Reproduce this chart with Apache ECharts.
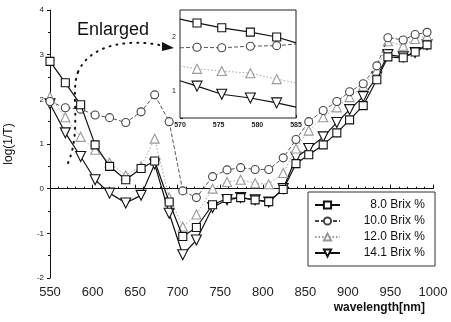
<!DOCTYPE html>
<html><head><meta charset="utf-8">
<script src="https://cdn.jsdelivr.net/npm/echarts@6/dist/echarts.min.js"></script>
<style>html,body{margin:0;padding:0;background:#fff}#c{width:451px;height:322px}</style>
</head><body><div id="c"></div>
<script>
// ---- data ----
const wavelengths = [550,568,586,603,620,639,657,673,690,706,722,741,758,774,791,807,824,839,854,871,887,902,918,934,947,965,979,993];
const brix80  = [2.85,2.37,1.88,0.98,0.50,0.20,0.45,0.62,-0.30,-1.07,-0.87,-0.36,-0.22,-0.20,-0.25,-0.29,-0.02,0.56,0.76,0.98,1.25,1.54,1.86,2.44,2.95,2.93,3.06,3.22];
const brix100 = [1.95,1.81,1.78,1.65,1.59,1.48,1.72,2.10,1.50,-0.05,-0.20,0.27,0.42,0.47,0.43,0.43,0.69,1.10,1.50,1.75,1.95,2.17,2.35,2.75,3.38,3.33,3.45,3.50];
const brix120 = [2.05,1.60,1.16,0.87,0.58,0.30,0.50,1.12,-0.20,-0.85,-0.58,0.00,0.15,0.20,0.12,0.10,0.35,0.90,1.30,1.60,1.82,2.05,2.30,2.65,3.30,3.20,3.35,3.42];
const brix141 = [1.90,1.25,0.72,0.20,-0.10,-0.32,-0.15,0.55,-0.55,-1.48,-1.15,-0.42,-0.25,-0.20,-0.25,-0.30,0.00,0.70,0.90,1.16,1.48,1.77,2.06,2.50,3.00,2.95,3.05,3.22];
const seriesNames = ['8.0 Brix %','10.0 Brix %','12.0 Brix %','14.1 Brix %'];
const xTicks = [550,600,650,700,750,800,850,900,950,1000];
const yTicks = [-2,-1,0,1,2,3,4];
// inset (enlarged 570-585 nm)
const insetWl  = [570,572.2,575.4,579.1,582.5,585];
const inset80  = [2.33,2.26,2.17,2.09,2.00,1.89];
const inset100 = [1.80,1.81,1.80,1.83,1.84,1.87];
const inset120 = [1.46,1.41,1.37,1.33,1.22,1.15];
const inset141 = [1.19,1.09,0.94,0.87,0.78,0.70];
const insetXTicks = [570,575,580,585];

const FONT = 'Liberation Sans, Arial, sans-serif';
const styles = [
  {symbol:'rect', size:8, rot:0, color:'#111', lt:'solid', lw:1.2},
  {symbol:'circle', size:8, rot:0, color:'#444', lt:[4,2], lw:0.9},
  {symbol:'triangle', size:9, rot:0, color:'#999', lt:[1.5,2], lw:0.9},
  {symbol:'triangle', size:10, rot:180, color:'#111', lt:'solid', lw:1.2}
];
const mainData = [brix80, brix100, brix120, brix141];
const insetData = [inset80, inset100, inset120, inset141];

const series = [];
mainData.forEach((vals, k) => {
  const s = styles[k];
  series.push({
    name: seriesNames[k], type:'line', xAxisIndex:0, yAxisIndex:0,
    data: wavelengths.map((w,i)=>[w, vals[i]]),
    symbol: s.symbol, symbolSize: s.size, symbolRotate: s.rot, showAllSymbol: true,
    itemStyle: {color:'#fff', borderColor: s.color, borderWidth: 1.1},
    lineStyle: {color: s.color, type: s.lt, width: s.lw},
    emphasis: {disabled: true}, animation: false, z: 3 - k*0.1
  });
});
insetData.forEach((vals, k) => {
  const s = styles[k];
  series.push({
    name: seriesNames[k], type:'line', xAxisIndex:1, yAxisIndex:1,
    data: insetWl.map((w,i)=>{
      const d = {value:[w, vals[i]]};
      if (i===0 || i===insetWl.length-1) d.symbol = 'none';
      return d;
    }),
    symbol: s.symbol, symbolSize: s.size, symbolRotate: s.rot, showAllSymbol: true,
    itemStyle: {color:'#fff', borderColor: s.color, borderWidth: 1.1},
    lineStyle: {color: s.color, type: s.lt, width: s.lw},
    emphasis: {disabled: true}, animation: false, z: 6
  });
});

const chart = echarts.init(document.getElementById('c'), null, {renderer:'canvas'});
chart.setOption({
  backgroundColor:'#fff',
  animation:false,
  textStyle:{fontFamily:FONT},
  grid:[
    {left:50, top:10, right:18, bottom:44, containLabel:false, outerBoundsMode:'none'},
    {left:180, top:10, width:116, height:108, show:true, backgroundColor:'#fff', borderColor:'#222', borderWidth:1, z:5, containLabel:false, outerBoundsMode:'none'}
  ],
  xAxis:[
    {type:'value', gridIndex:0, min:xTicks[0], max:xTicks[xTicks.length-1], interval:50,
     axisLine:{lineStyle:{color:'#111', width:1}},
     axisTick:{inside:true, length:4, lineStyle:{color:'#111'}},
     minorTick:{show:true, splitNumber:5, length:2, lineStyle:{color:'#111'}},
     splitLine:{show:false},
     axisLabel:{color:'#222', fontSize:13, margin:8, fontFamily:FONT, formatter: v => String(v)}
    },
    {type:'value', gridIndex:1, min:insetXTicks[0], max:insetXTicks[insetXTicks.length-1], interval:5,
     axisLine:{show:false}, axisTick:{inside:true, length:3, lineStyle:{color:'#222'}},
     minorTick:{show:true, splitNumber:5, length:2, lineStyle:{color:'#222'}},
     splitLine:{show:false},
     axisLabel:{color:'#222', fontSize:7, fontWeight:'bold', margin:4, fontFamily:FONT,
       showMinLabel:true, showMaxLabel:true, hideOverlap:false, formatter: v => String(v)}
    }
  ],
  yAxis:[
    {type:'value', gridIndex:0, min:yTicks[0], max:yTicks[yTicks.length-1], interval:1,
     axisLine:{show:true, lineStyle:{color:'#111', width:1}},
     axisTick:{show:true, inside:false, length:3, lineStyle:{color:'#111'}},
     minorTick:{show:true, splitNumber:2, length:2, lineStyle:{color:'#111'}},
     splitLine:{show:false},
     axisLabel:{color:'#222', fontSize:8, margin:6, fontFamily:FONT},
     name:'log(1/T)', nameLocation:'middle', nameGap:35, nameRotate:90,
     nameTextStyle:{fontSize:12, color:'#111', fontFamily:FONT}
    },
    {type:'value', gridIndex:1, min:0.5, max:2.5, interval:0.5,
     axisLine:{show:false}, axisTick:{inside:true, length:3, lineStyle:{color:'#222'}},
     splitLine:{show:false},
     axisLabel:{color:'#222', fontSize:7, margin:4, fontFamily:FONT, showMinLabel:true, showMaxLabel:true,
       formatter: v => Number.isInteger(v) ? String(v) : ''}
    }
  ],
  legend:{
    data: seriesNames, orient:'vertical', left:308, top:192,
    itemWidth:25, itemHeight:9, itemGap:4,
    padding:[7,10,7,6],
    borderColor:'#333', borderWidth:1, backgroundColor:'#fff',
    formatter: n => '{t|' + n + '}',
    textStyle:{color:'#111', fontSize:12, fontFamily:FONT,
      rich:{t:{width:80, align:'right', fontSize:12, lineHeight:14, fontFamily:FONT, color:'#111'}}},
    selectedMode:false
  },
  graphic:[
    {type:'text', x:77, y:21, z:10,
     style:{text:'Enlarged', font:'18px ' + FONT, fill:'#111'}},
    {type:'text', x:425, y:302, z:10,
     style:{text:'wavelength[nm]', font:'bold 12px ' + FONT, fill:'#111', textAlign:'right'}},
    {type:'bezierCurve', z:10,
     shape:{x1:68, y1:163, cpx1:82, cpy1:130, cpx2:70, cpy2:92, x2:78, y2:72},
     style:{fill:'none', stroke:'#111', lineWidth:2, lineDash:[1,6], lineCap:'round'}},
    {type:'bezierCurve', z:10,
     shape:{x1:78, y1:72, cpx1:90, cpy1:44, cpx2:130, cpy2:38, x2:164, y2:46},
     style:{fill:'none', stroke:'#111', lineWidth:2, lineDash:[1,6], lineCap:'round'}},
    {type:'polygon', z:10,
     shape:{points:[[162,42],[174,48],[162,51]]},
     style:{fill:'#111'}}
  ],
  series: series
});
</script>
</body></html>
